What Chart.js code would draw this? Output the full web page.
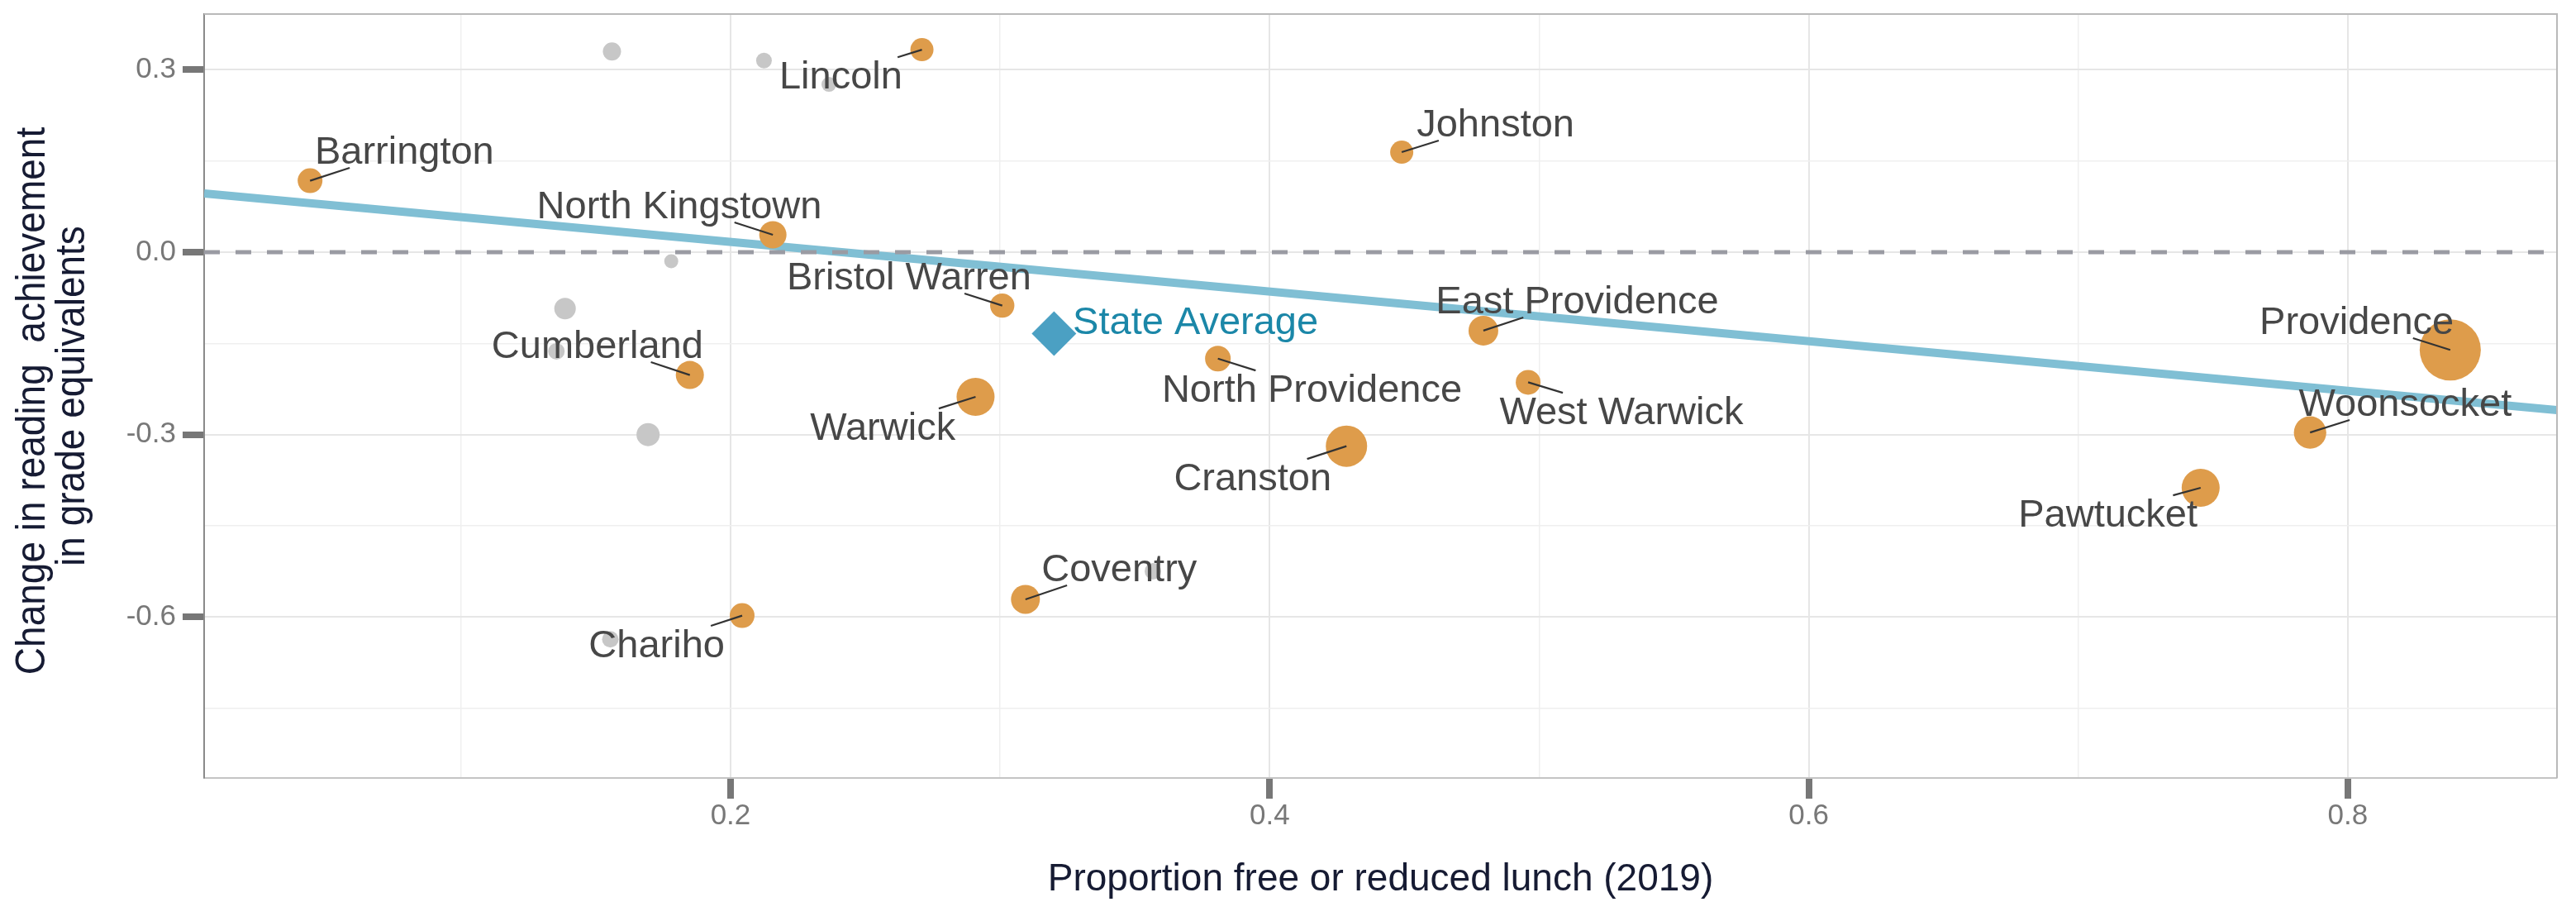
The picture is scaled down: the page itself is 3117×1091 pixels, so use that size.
<!DOCTYPE html>
<html>
<head>
<meta charset="utf-8">
<script src="https://cdn.jsdelivr.net/npm/chart.js@4/dist/chart.umd.min.js"></script>
<style>
  html, body { margin: 0; padding: 0; background: #fff; overflow: hidden; }
  canvas { display: block; }
</style>
</head>
<body>
<canvas id="chart" width="3117" height="1091"></canvas>
<script>
// highlighted districts
const districts = ['Barrington', 'Lincoln', 'North Kingstown', 'Johnston', 'Bristol Warren', 'Cumberland',
  'Warwick', 'East Providence', 'North Providence', 'West Warwick', 'Cranston', 'Coventry', 'Chariho',
  'Providence', 'Woonsocket', 'Pawtucket'];
const frl = [0.044, 0.271, 0.2157, 0.449, 0.3008, 0.1849, 0.2909, 0.4793, 0.3808, 0.4959, 0.4285, 0.3094,
  0.2043, 0.838, 0.786, 0.7454];
const change = [0.1175, 0.333, 0.0286, 0.1645, -0.0878, -0.202, -0.238, -0.129, -0.175, -0.214, -0.319, -0.571,
  -0.5977, -0.1607, -0.2966, -0.3875];
const bubble = [15, 14, 16.5, 14, 14.7, 17, 23, 18, 15.5, 15, 25, 17.5, 15, 37, 19.6, 23];
// where the repelled labels ended up (data units, text centre / baseline)
const labelX = [0.079, 0.2409, 0.181, 0.4838, 0.2662, 0.1506, 0.2565, 0.5141, 0.4157, 0.5305, 0.3937, 0.3442,
  0.1726, 0.8033, 0.8213, 0.711];
const labelY = [0.1454, 0.2691, 0.0557, 0.1903, -0.0612, -0.174, -0.3086, -0.1006, -0.246, -0.2827, -0.3915,
  -0.541, -0.666, -0.1346, -0.2691, -0.4513];

// other districts (grey, unlabelled)
const otherFrl = [0.156, 0.2124, 0.2365, 0.178, 0.1386, 0.1354, 0.1694, 0.1554, 0.3567];
const otherChange = [0.33, 0.315, 0.276, -0.015, -0.0927, -0.163, -0.3, -0.6366, -0.5247];
const otherBubble = [11, 9.5, 9, 8.5, 13, 10, 14, 10, 10];

const stateFrl = 0.32;
const stateChange = -0.134;
const stateLabel = 'State Average';
const stateLabelX = 0.3725;
const stateLabelY = -0.1346;

// fitted line, read at the panel edges
const trendX = [0.0047, 0.8776];
const trendY = [0.0965, -0.2596];

const xRange = [0.0047, 0.8776];
const yRange = [-0.8647, 0.3916];
const xMajor = [0.2, 0.4, 0.6, 0.8];
const xMinor = [0.1, 0.3, 0.5, 0.7];
const xTickLabels = ['0.2', '0.4', '0.6', '0.8'];
const yMajor = [-0.6, -0.3, 0, 0.3];
const yMinor = [-0.75, -0.45, -0.15, 0.15];
const yTickLabels = ['-0.6', '-0.3', '0.0', '0.3'];

const xTitle = 'Proportion free or reduced lunch (2019)';
const yTitle = ['Change in reading  achievement', 'in grade equivalents'];

const FONT = '"Liberation Sans", Arial, sans-serif';
const ORANGE = '#DE9C4B';
const GREY_PT = '#C7C7C7';
const BLUE_PT = '#4BA0C3';
const TEAL_TXT = '#1B87A8';
const TITLE_COL = '#161b33';

const findIdx = (arr, v) => arr.findIndex((m) => Math.abs(m - v) < 1e-9);

function edgePoint(box, px, py) {
  const cx = (box.l + box.r) / 2;
  const cy = (box.t + box.b) / 2;
  const dx = px - cx;
  const dy = py - cy;
  const hw = (box.r - box.l) / 2;
  const hh = (box.b - box.t) / 2;
  if (Math.abs(dx) <= hw && Math.abs(dy) <= hh) return null;
  const tx = dx !== 0 ? hw / Math.abs(dx) : Infinity;
  const ty = dy !== 0 ? hh / Math.abs(dy) : Infinity;
  const t = Math.min(tx, ty);
  return { x: cx + dx * t, y: cy + dy * t };
}

const labelPlugin = {
  id: 'repelLabels',
  afterDatasetsDraw(chart) {
    const { ctx, scales: { x, y } } = chart;
    const fs = 47;
    ctx.save();
    ctx.font = `${fs}px ${FONT}`;
    ctx.textAlign = 'center';
    ctx.textBaseline = 'alphabetic';
    districts.forEach((name, i) => {
      const tx = x.getPixelForValue(labelX[i]);
      const ty = y.getPixelForValue(labelY[i]);
      const px = x.getPixelForValue(frl[i]);
      const py = y.getPixelForValue(change[i]);
      const w = ctx.measureText(name).width;
      const box = { l: tx - w / 2 - 6, r: tx + w / 2 + 6, t: ty - fs * 0.72 - 4, b: ty + 5 };
      const s = edgePoint(box, px, py);
      if (s) {
        ctx.strokeStyle = '#333333';
        ctx.lineWidth = 2.2;
        ctx.beginPath();
        ctx.moveTo(s.x, s.y);
        ctx.lineTo(px, py);
        ctx.stroke();
      }
      ctx.fillStyle = '#474747';
      ctx.fillText(name, tx, ty);
    });
    ctx.fillStyle = TEAL_TXT;
    ctx.fillText(stateLabel, x.getPixelForValue(stateLabelX), y.getPixelForValue(stateLabelY));
    ctx.restore();
  },
  afterDraw(chart) {
    const { ctx, chartArea: a } = chart;
    ctx.save();
    // panel border top / right
    ctx.strokeStyle = '#b9b9b9';
    ctx.lineWidth = 2;
    ctx.beginPath();
    ctx.moveTo(a.left, a.top);
    ctx.lineTo(a.right, a.top);
    ctx.lineTo(a.right, a.bottom);
    ctx.stroke();
    // axis titles
    ctx.fillStyle = TITLE_COL;
    ctx.font = `46px ${FONT}`;
    ctx.textAlign = 'center';
    ctx.textBaseline = 'alphabetic';
    ctx.fillText(xTitle, (a.left + a.right) / 2, 1077);
    const baselines = [54, 102];
    const centres = [485, 479];
    yTitle.forEach((line, i) => {
      ctx.save();
      ctx.translate(baselines[i], centres[i]);
      ctx.rotate(-Math.PI / 2);
      ctx.scale(1, 1.08);
      ctx.fillText(line, 0, 0);
      ctx.restore();
    });
    ctx.restore();
  }
};

const gridColor = (major) => (c) => (c.tick && findIdx(major, c.tick.value) >= 0 ? '#e6e6e6' : '#efefef');
const gridWidth = (major) => (c) => (c.tick && findIdx(major, c.tick.value) >= 0 ? 2 : 1.5);
const tickColor = (major) => (c) => (c.tick && findIdx(major, c.tick.value) >= 0 ? '#777777' : 'rgba(0,0,0,0)');

new Chart(document.getElementById('chart'), {
  type: 'scatter',
  data: {
    datasets: [
      {
        label: 'districts',
        data: frl.map((v, i) => ({ x: v, y: change[i] })),
        backgroundColor: ORANGE,
        borderWidth: 0,
        pointRadius: bubble,
        pointHoverRadius: bubble,
      },
      {
        label: 'other',
        data: otherFrl.map((v, i) => ({ x: v, y: otherChange[i] })),
        backgroundColor: GREY_PT,
        borderWidth: 0,
        pointRadius: otherBubble,
        pointHoverRadius: otherBubble,
      },
      {
        label: 'state',
        data: [{ x: stateFrl, y: stateChange }],
        backgroundColor: BLUE_PT,
        borderWidth: 0,
        pointStyle: 'rectRot',
        pointRadius: 27,
      },
      {
        label: 'zero',
        data: [{ x: xRange[0], y: 0 }, { x: xRange[1], y: 0 }],
        showLine: true,
        borderColor: '#9a9ba3',
        borderWidth: 5,
        borderDash: [19, 19],
        pointRadius: 0,
      },
      {
        label: 'trend',
        data: trendX.map((v, i) => ({ x: v, y: trendY[i] })),
        showLine: true,
        borderColor: '#80BFD4',
        borderWidth: 10,
        pointRadius: 0,
      },
    ],
  },
  options: {
    responsive: false,
    devicePixelRatio: 1,
    animation: false,
    layout: { autoPadding: false, padding: { top: 17, right: 23, left: 0, bottom: 0 } },
    plugins: { legend: { display: false }, tooltip: { enabled: false } },
    scales: {
      x: {
        type: 'linear',
        min: xRange[0],
        max: xRange[1],
        bounds: 'data',
        afterBuildTicks: (s) => {
          s.ticks = [...xMinor, ...xMajor].sort((a, b) => a - b).map((v) => ({ value: v }));
        },
        afterFit: (s) => {
          s.height = 150;
          s.paddingLeft = 0;
          s.paddingRight = 0;
        },
        ticks: {
          autoSkip: false,
          maxRotation: 0,
          padding: 0,
          color: '#787878',
          font: { family: FONT, size: 35 },
          callback: (v) => {
            const k = findIdx(xMajor, v);
            return k >= 0 ? xTickLabels[k] : '';
          },
        },
        grid: {
          color: gridColor(xMajor),
          lineWidth: gridWidth(xMajor),
          tickColor: tickColor(xMajor),
          tickWidth: 8,
          tickLength: 25,
        },
        border: { color: '#c4c4c4', width: 2 },
      },
      y: {
        type: 'linear',
        min: yRange[0],
        max: yRange[1],
        bounds: 'data',
        afterBuildTicks: (s) => {
          s.ticks = [...yMinor, ...yMajor].sort((a, b) => a - b).map((v) => ({ value: v }));
        },
        afterFit: (s) => {
          s.width = 247;
          s.paddingTop = 0;
          s.paddingBottom = 0;
        },
        ticks: {
          autoSkip: false,
          padding: 8,
          color: '#787878',
          font: { family: FONT, size: 35 },
          callback: (v) => {
            const k = findIdx(yMajor, v);
            return k >= 0 ? yTickLabels[k] : '';
          },
        },
        grid: {
          color: gridColor(yMajor),
          lineWidth: gridWidth(yMajor),
          tickColor: tickColor(yMajor),
          tickWidth: 8,
          tickLength: 26,
        },
        border: { color: '#8a8a8a', width: 2 },
      },
    },
  },
  plugins: [labelPlugin],
});
</script>
</body>
</html>
